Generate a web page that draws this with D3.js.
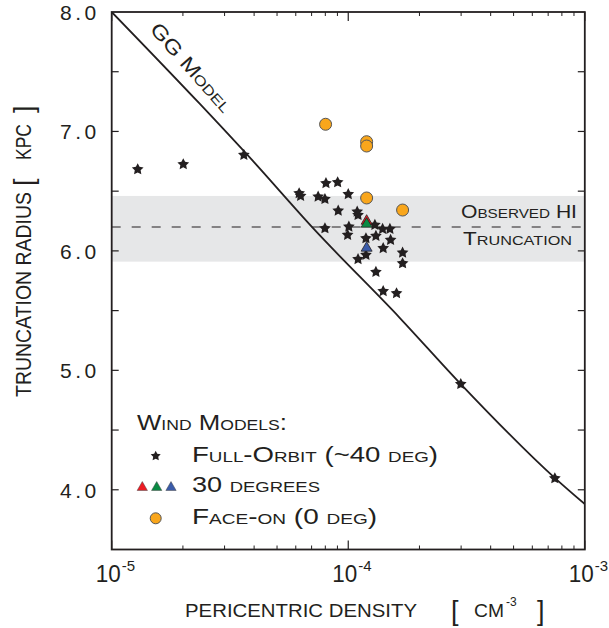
<!DOCTYPE html>
<html><head><meta charset="utf-8">
<script src="https://cdn.jsdelivr.net/npm/d3@7"></script>
<style>
body{margin:0;background:#fff}
text{font-family:"Liberation Sans","DejaVu Sans",Arial,sans-serif;fill:#231f20}
</style></head>
<body><svg id="c" width="609" height="628"></svg>
<script>
// ---------- data ----------
const starDensity = [1.288e-5,2.007e-5,3.62e-5,2.99e-4,7.47e-4,
  6.20e-5,6.29e-5,8.05e-5,9.02e-5,7.46e-5,7.97e-5,1.0e-4,9.07e-5,1.091e-4,1.10e-4,
  7.97e-5,1.006e-4,9.94e-5,1.188e-4,1.296e-4,1.309e-4,1.397e-4,1.50e-4,1.51e-4,1.405e-4,
  1.697e-4,1.697e-4,1.10e-4,1.188e-4,1.309e-4,1.405e-4,1.60e-4];
const starRadius = [6.683,6.725,6.803,4.885,4.096,
  6.482,6.46,6.566,6.574,6.454,6.434,6.474,6.336,6.328,6.30,
  6.189,6.202,6.133,6.105,6.217,6.125,6.183,6.183,6.091,6.022,
  5.985,5.896,5.93,5.966,5.823,5.662,5.645];
const tri30Density = [1.196e-4,1.196e-4,1.196e-4];
const tri30Radius = [6.25,6.225,6.024];
const faceOnDensity = [8.02e-5,1.196e-4,1.196e-4,1.196e-4,1.697e-4];
const faceOnRadius = [7.06,6.914,6.878,6.443,6.342];
const ggDensity = [1e-5,2.36e-5,3.84e-5,7.1e-5,1.65e-4,2.99e-4,7.46e-4,1e-3];
const ggRadius = [8.0,7.23,6.78,6.19,5.44,4.885,4.10,3.88];
const hiBand = [5.91,6.46];
const hiTruncation = 6.2;
const xMajorTicks = [1e-5,1e-4,1e-3];
const xTickExp = ["-5","-4","-3"];
const yTicks = [4.0,4.5,5.0,5.5,6.0,6.5,7.0,7.5];
const yTickLabels = [4.0,5.0,6.0,7.0,8.0];

// ---------- styles ----------
const triColors = ["#ed1c24","#0a8a43","#3a5ba9"];
const orange = "#f9a61b", ink = "#231f20";

const svg = d3.select("#c");
const L=111.7, R=584.8, T=12, B=549.5;
const x = d3.scaleLog().domain([1e-5,1e-3]).range([L,R]);
const y = d3.scaleLinear().domain([3.5,8.0]).range([B,T]);

const fatStar = {draw(ctx,size){
  const r=Math.sqrt(size), ri=r*0.5;
  for(let i=0;i<10;i++){
    const a=-Math.PI/2+i*Math.PI/5, rr=i%2?ri:r;
    if(i) ctx.lineTo(rr*Math.cos(a),rr*Math.sin(a)); else ctx.moveTo(rr*Math.cos(a),rr*Math.sin(a));
  }
  ctx.closePath();
}};

svg.append("clipPath").attr("id","clip").append("rect")
  .attr("x",L).attr("y",T).attr("width",R-L).attr("height",B-T);
const plot = svg.append("g").attr("clip-path","url(#clip)");

// band
plot.append("rect").attr("x",L).attr("width",R-L)
  .attr("y",y(hiBand[1])).attr("height",y(hiBand[0])-y(hiBand[1]))
  .attr("fill","#e6e7e8");
plot.append("line").attr("x1",L).attr("x2",R)
  .attr("y1",y(hiTruncation)).attr("y2",y(hiTruncation))
  .attr("stroke",ink).attr("stroke-width",1).attr("stroke-dasharray","9,11");

// GG model
const gg = ggDensity.map((d,i)=>[d,ggRadius[i]]);
plot.append("path").datum(gg)
  .attr("d",d3.line().x(d=>x(d[0])).y(d=>y(d[1])).curve(d3.curveMonotoneX))
  .attr("fill","none").attr("stroke",ink).attr("stroke-width",1.8);

// axes frame + ticks
const axG = svg.append("g");
const minor = [];
for (let e=-5;e<-3;e++) for (let m=2;m<=9;m++) minor.push(m*Math.pow(10,e));
axG.selectAll(".xminB").data(minor).join("line")
  .attr("x1",d=>x(d)).attr("x2",d=>x(d)).attr("y1",B).attr("y2",B-4)
  .attr("stroke",ink).attr("stroke-width",1);
axG.selectAll(".xminT").data(minor).join("line")
  .attr("x1",d=>x(d)).attr("x2",d=>x(d)).attr("y1",T).attr("y2",T+4)
  .attr("stroke",ink).attr("stroke-width",1);
axG.selectAll(".xmajB").data(xMajorTicks).join("line")
  .attr("x1",d=>x(d)).attr("x2",d=>x(d)).attr("y1",B).attr("y2",B-9)
  .attr("stroke",ink).attr("stroke-width",1.2);
axG.selectAll(".xmajT").data(xMajorTicks).join("line")
  .attr("x1",d=>x(d)).attr("x2",d=>x(d)).attr("y1",T).attr("y2",T+9)
  .attr("stroke",ink).attr("stroke-width",1.2);
axG.selectAll(".ytL").data(yTicks).join("line")
  .attr("x1",L).attr("x2",L+7).attr("y1",d=>y(d)).attr("y2",d=>y(d))
  .attr("stroke",ink).attr("stroke-width",1.2);
axG.selectAll(".ytR").data(yTicks).join("line")
  .attr("x1",R).attr("x2",R-7).attr("y1",d=>y(d)).attr("y2",d=>y(d))
  .attr("stroke",ink).attr("stroke-width",1.2);
axG.append("rect").attr("x",L).attr("y",T).attr("width",R-L).attr("height",B-T)
  .attr("fill","none").attr("stroke",ink).attr("stroke-width",1.8);

// tick labels
svg.selectAll(".ylab").data(yTickLabels).join("text")
  .attr("x",L-12).attr("y",d=>y(d)+8).attr("text-anchor","end")
  .attr("font-size",21).attr("letter-spacing",3.5).text(d=>d.toFixed(1));
svg.selectAll(".xlab").data(xMajorTicks).join("text")
  .attr("x",d=>x(d)-16).attr("y",582).attr("font-size",24)
  .attr("textLength",25).attr("lengthAdjust","spacingAndGlyphs").text("10");
svg.selectAll(".xexp").data(xMajorTicks).join("text")
  .attr("x",d=>x(d)+10).attr("y",571).attr("font-size",15)
  .text((d,i)=>xTickExp[i]);

// axis titles
svg.append("text").attr("x",185).attr("y",617).attr("font-size",18.5)
  .attr("textLength",232).attr("lengthAdjust","spacingAndGlyphs").text("PERICENTRIC DENSITY");
svg.append("text").attr("x",451).attr("y",620).attr("font-size",27).attr("font-weight",300).text("[");
svg.append("text").attr("x",474).attr("y",617).attr("font-size",18.5)
  .attr("textLength",30).attr("lengthAdjust","spacingAndGlyphs").text("CM");
svg.append("text").attr("x",506).attr("y",606).attr("font-size",12).text("-3");
svg.append("text").attr("x",537).attr("y",620).attr("font-size",27).attr("font-weight",300).text("]");

const ylab = (t,pos,fs,len)=>{
  const e = svg.append("text").attr("transform",`translate(${pos[0]},${pos[1]}) rotate(-90)`)
    .attr("font-size",fs).text(t);
  if(len) e.attr("textLength",len).attr("lengthAdjust","spacingAndGlyphs");
};
ylab("TRUNCATION RADIUS",[31,397],22,205);
ylab("[",[33,186],27,null);
ylab("KPC",[31,160],22,36);
ylab("]",[33,113],27,null);

// GG model label
svg.append("text").attr("transform","translate(149,30) rotate(48.5)")
  .attr("font-size",20).attr("font-variant","small-caps")
  .attr("textLength",112).attr("lengthAdjust","spacingAndGlyphs").text("GG Model");

// observed HI
svg.append("text").attr("x",461).attr("y",218)
  .attr("font-size",18).attr("font-variant","small-caps")
  .attr("textLength",116).attr("lengthAdjust","spacingAndGlyphs").text("Observed HI");
svg.append("text").attr("x",463).attr("y",245)
  .attr("font-size",18).attr("font-variant","small-caps")
  .attr("textLength",109).attr("lengthAdjust","spacingAndGlyphs").text("Truncation");

// markers
const star = d3.symbol(fatStar).size(38);
svg.selectAll(".star").data(starDensity).join("path")
  .attr("d",star).attr("transform",(d,i)=>`translate(${x(d)},${y(starRadius[i])})`)
  .attr("fill",ink);
const tri = d3.symbol(d3.symbolTriangle).size(52);
svg.selectAll(".tri").data(tri30Density).join("path")
  .attr("d",tri).attr("transform",(d,i)=>`translate(${x(d)},${y(tri30Radius[i])})`)
  .attr("fill",(d,i)=>triColors[i]).attr("stroke",ink).attr("stroke-width",0.8);
svg.selectAll(".fo").data(faceOnDensity).join("circle")
  .attr("cx",d=>x(d)).attr("cy",(d,i)=>y(faceOnRadius[i])).attr("r",6)
  .attr("fill",orange).attr("stroke","#555").attr("stroke-width",1);

// legend
const lg = svg.append("g");
const ltext = (t,xx,yy,len)=>lg.append("text").attr("x",xx).attr("y",yy).attr("font-size",22)
  .attr("font-variant","small-caps").attr("textLength",len).attr("lengthAdjust","spacingAndGlyphs").text(t);
ltext("Wind Models:",137,430,150);
lg.append("path").attr("d",d3.symbol(fatStar).size(28)).attr("transform","translate(155.7,456)").attr("fill",ink);
ltext("Full-Orbit (~40 deg)",192,462,246);
[142.3,156.7,171].forEach((cx,i)=>{
  lg.append("path").attr("d",d3.symbol(d3.symbolTriangle).size(46)).attr("transform",`translate(${cx},${487.5})`)
    .attr("fill",triColors[i]).attr("stroke","#444").attr("stroke-width",0.5);
});
ltext("30 degrees",192,492,128);
lg.append("circle").attr("cx",155.7).attr("cy",518.3).attr("r",5.5).attr("fill",orange).attr("stroke","#555").attr("stroke-width",1);
ltext("Face-on (0 deg)",192,524,185);
</script></body></html>
